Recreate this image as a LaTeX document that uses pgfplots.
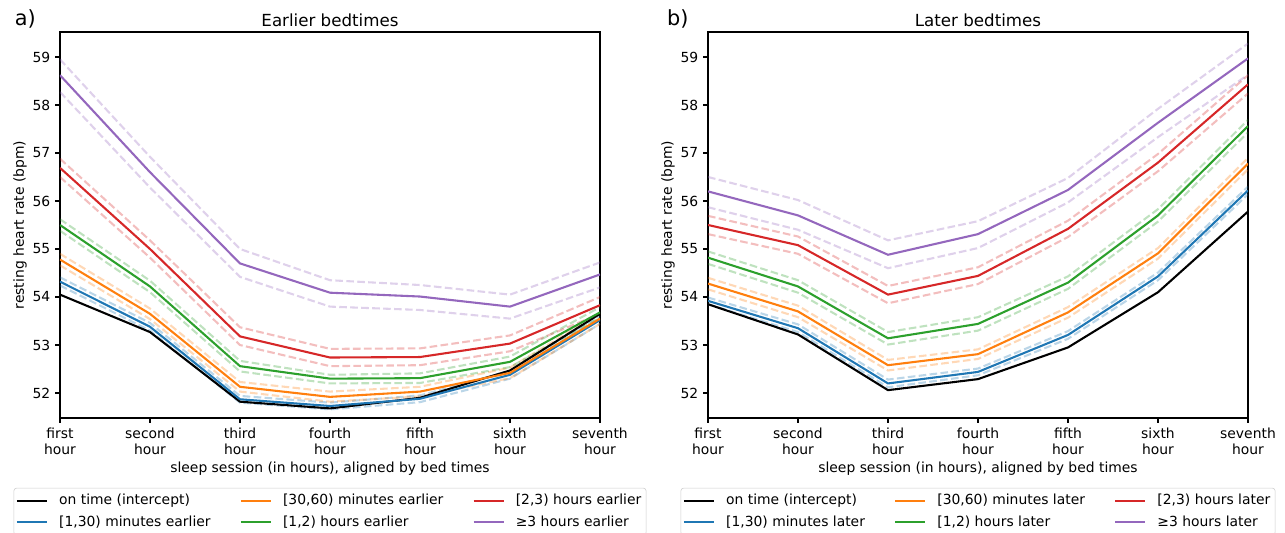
\documentclass[border=0pt]{standalone}
\usepackage{fontspec}
\setmainfont{DejaVu Sans}
\usepackage{pgfplots}
\usepackage{pgfplotstable}
\pgfplotsset{compat=1.18}

\definecolor{tabblue}{HTML}{1F77B4}
\definecolor{taborange}{HTML}{FF7F0E}
\definecolor{tabgreen}{HTML}{2CA02C}
\definecolor{tabred}{HTML}{D62728}
\definecolor{tabpurple}{HTML}{9467BD}

% mean and dashed CI bounds per group, hours 0..6
\pgfplotstableread{
x on b bl bh o ol oh g gl gh r rl rh p pl ph
0 54.05 54.32 54.24 54.41 54.78 54.66 54.90 55.50 55.38 55.62 56.69 56.50 56.88 58.62 58.27 58.95
1 53.27 53.38 53.30 53.46 53.65 53.54 53.76 54.22 54.10 54.34 55.00 54.82 55.18 56.60 56.28 56.92
2 51.82 51.87 51.80 51.94 52.13 52.03 52.23 52.56 52.45 52.67 53.18 53.00 53.37 54.70 54.42 55.00
3 51.68 51.73 51.66 51.80 51.92 51.82 52.03 52.30 52.20 52.38 52.74 52.56 52.92 54.09 53.80 54.35
4 51.90 51.88 51.81 51.95 52.03 51.93 52.13 52.31 52.21 52.41 52.75 52.58 52.93 54.01 53.73 54.25
5 52.47 52.38 52.30 52.46 52.42 52.31 52.53 52.65 52.54 52.76 53.03 52.87 53.20 53.80 53.55 54.05
6 53.65 53.52 53.44 53.60 53.55 53.44 53.66 53.68 53.57 53.79 53.83 53.65 54.00 54.47 54.20 54.72
}\earlier

\pgfplotstableread{
x on b bl bh o ol oh g gl gh r rl rh p pl ph
0 53.85 53.92 53.85 53.99 54.28 54.16 54.40 54.82 54.69 54.95 55.50 55.31 55.69 56.20 55.87 56.50
1 53.22 53.35 53.27 53.43 53.70 53.58 53.82 54.22 54.09 54.35 55.08 54.90 55.26 55.70 55.40 56.02
2 52.06 52.20 52.12 52.28 52.58 52.47 52.69 53.14 53.01 53.27 54.05 53.87 54.23 54.88 54.60 55.18
3 52.29 52.44 52.37 52.51 52.81 52.71 52.91 53.44 53.30 53.58 54.44 54.27 54.62 55.31 55.02 55.58
4 52.95 53.21 53.13 53.29 53.68 53.57 53.79 54.30 54.17 54.43 55.42 55.25 55.59 56.23 55.97 56.48
5 54.10 54.43 54.35 54.51 54.91 54.80 55.02 55.70 55.57 55.83 56.80 56.62 56.98 57.63 57.33 57.92
6 55.78 56.22 56.14 56.30 56.78 56.66 56.90 57.56 57.43 57.69 58.43 58.24 58.62 58.97 58.63 59.28
}\later

\pgfplotsset{
  hr/.style={
    scale only axis, width=388.8pt, height=277.92pt,
    xmin=0, xmax=6, ymin=51.48, ymax=59.52,
    clip mode=individual,
    xtick={0,...,6},
    xticklabels={{first\\hour},{second\\hour},{third\\hour},{fourth\\hour},{fifth\\hour},{sixth\\hour},{seventh\\hour}},
    ytick={52,...,59},
    xtick pos=bottom, ytick pos=left, tick align=outside,
    major tick length=3.5pt,
    every tick/.style={black, line width=0.8pt},
    axis line style={line width=0.8pt},
    /pgf/number format/assume math mode=true,
    tick label style={font=\fontsize{10}{11.5}\selectfont},
    xticklabel style={align=center},
    label style={font=\fontsize{10}{12}\selectfont},
    xlabel={sleep session (in hours), aligned by bed times},
    ylabel={resting heart rate (bpm)},
    xlabel style={at={(axis description cs:0.5,-0.131)}, anchor=center},
    ylabel style={at={(axis description cs:-0.0741,0.5)}, anchor=center},
    title style={font=\fontsize{12}{14}\selectfont, yshift=-5.5pt},
    legend columns=3,
    legend cell align=left,
    legend image code/.code={\draw[##1] (0pt,0pt) -- (21.6pt,0pt);},
    legend style={at={(0.5,-0.181)}, anchor=north, draw=black!20,
      rounded corners=2pt, font=\fontsize{10}{12}\selectfont,
      inner xsep=1.5pt, inner ysep=2.5pt, /tikz/row sep=2.5pt,
      /tikz/every odd column/.append style={column sep=6pt},
      /tikz/every even column/.append style={column sep=19pt}},
  },
  ci/.style={#1, line width=1.5pt, opacity=0.3, dash pattern=on 5.5pt off 2.4pt, forget plot},
  mn/.style={#1, line width=1.5pt, forget plot},
}

\newcommand\drawgroups[1]{%
  \addplot[ci=tabblue] table[x=x,y=bl] {#1};
  \addplot[ci=tabblue] table[x=x,y=bh] {#1};
  \addplot[ci=taborange] table[x=x,y=ol] {#1};
  \addplot[ci=taborange] table[x=x,y=oh] {#1};
  \addplot[ci=tabgreen] table[x=x,y=gl] {#1};
  \addplot[ci=tabgreen] table[x=x,y=gh] {#1};
  \addplot[ci=tabred] table[x=x,y=rl] {#1};
  \addplot[ci=tabred] table[x=x,y=rh] {#1};
  \addplot[ci=tabpurple] table[x=x,y=pl] {#1};
  \addplot[ci=tabpurple] table[x=x,y=ph] {#1};
  \addplot[mn=black] table[x=x,y=on] {#1};
  \addplot[mn=tabblue] table[x=x,y=b] {#1};
  \addplot[mn=taborange] table[x=x,y=o] {#1};
  \addplot[mn=tabgreen] table[x=x,y=g] {#1};
  \addplot[mn=tabred] table[x=x,y=r] {#1};
  \addplot[mn=tabpurple] table[x=x,y=p] {#1};
}

\newcommand\legendrows[1]{%
  \addlegendimage{black, line width=1.5pt}\addlegendentry{on time (intercept)}
  \addlegendimage{taborange, line width=1.5pt}\addlegendentry{[30,60) minutes #1}
  \addlegendimage{tabred, line width=1.5pt}\addlegendentry{[2,3) hours #1}
  \addlegendimage{tabblue, line width=1.5pt}\addlegendentry{[1,30) minutes #1}
  \addlegendimage{tabgreen, line width=1.5pt}\addlegendentry{[1,2) hours #1}
  \addlegendimage{tabpurple, line width=1.5pt}\addlegendentry{≥3 hours #1}
}

\begin{document}
\begin{tikzpicture}
\begin{axis}[hr, title={Earlier bedtimes}]
  \drawgroups{\earlier}
  \legendrows{earlier}
  \node[anchor=base west, font=\fontsize{15}{18}\selectfont, xshift=-36pt, yshift=5pt]
    at (rel axis cs:0,1) {a)};
\end{axis}
\begin{axis}[hr, xshift=466.56pt, title={Later bedtimes}]
  \drawgroups{\later}
  \legendrows{later}
  \node[anchor=base west, font=\fontsize{15}{18}\selectfont, xshift=-33pt, yshift=5pt]
    at (rel axis cs:0,1) {b)};
\end{axis}
\pgfresetboundingbox
\path[use as bounding box] (-43.2pt,-82.08pt) rectangle (882pt,300.96pt);
\end{tikzpicture}
\end{document}
